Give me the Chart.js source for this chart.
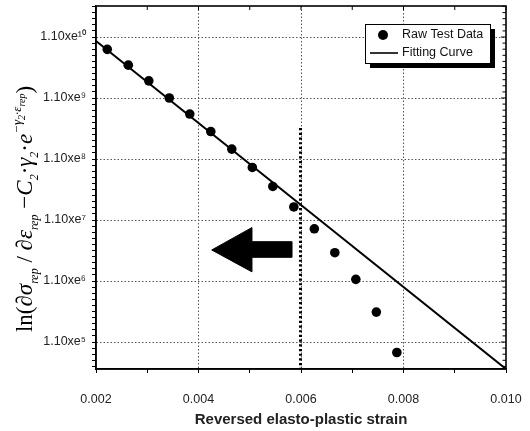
<!DOCTYPE html>
<html><head><meta charset="utf-8">
<script src="https://cdn.jsdelivr.net/npm/chart.js@4.4.0/dist/chart.umd.min.js"></script>
<style>html,body{margin:0;padding:0;background:#fff;}#wrap{width:530px;height:431px;position:relative;}</style>
</head><body><div id="wrap"><canvas id="c" width="530" height="431" style="width:530px;height:431px"></canvas></div>
<script>
// ---- data ----
const rawX = [0.00222,0.00263,0.00303,0.00343,0.00383,0.00424,0.00465,0.00505,0.00545,0.00586,0.00626,0.00666,0.00707,0.00747,0.00787];
const rawY = [6.9e9,3.8e9,2.1e9,1.1e9,6.0e8,3.1e8,1.6e8,8.0e7,3.9e7,1.8e7,7.9e6,3.2e6,1.17e6,3.4e5,7.4e4];
const fitX = [0.002, 0.010];
const fitY = [9.46e9, 3.97e4];
const limitX = [0.00599, 0.00599];
const limitY = [3.54e8, 3.97e4];
const arrowX = [0.004258,0.005038,0.005038,0.005819,0.005819,0.005038,0.005038,0.004258];
const arrowY = [3.55e6,8.23e6,4.85e6,4.85e6,2.69e6,2.69e6,1.56e6,3.55e6];
const xTickValues = [0.002,0.003,0.004,0.005,0.006,0.007,0.008,0.009,0.010];
const xTickLabels = ['0.002','','0.004','','0.006','','0.008','','0.010'];
const xGridValues = [0.004,0.006,0.008];
const yMajorValues = [1.1e5,1.1e6,1.1e7,1.1e8,1.1e9,1.1e10];
const yTickLabels = ['1.10xe\u2075','1.10xe\u2076','1.10xe\u2077','1.10xe\u2078','1.10xe\u2079','1.10xe\u00b9\u2070'];
const xRange = [0.002, 0.010];
const yRange = [3.97e4, 3.545e10];
const seriesNames = ['Raw Test Data','Fitting Curve'];
const xTitle = 'Reversed elasto-plastic strain';
const yTitleParts = [['ln(','n'],['\u2202\u03c3','i'],['rep','sub'],[' / ','n'],['\u2202\u03b5','i'],['rep','sub'],[' \u2212','n'],['C','i'],['2','sub'],['\u00b7','n'],['\u03b3','i'],['2','sub'],['\u00b7','n'],['e','i'],['\u2212\u03b3','sup'],['2','supsub'],['\u00b7\u03b5','sup'],['rep','supsub'],[')','n']];

// ---- font detection ----
const probe = document.createElement('canvas').getContext('2d');
probe.font = "15px 'Liberation Sans Narrow', monospace"; const wA = probe.measureText('0.002 Raw Test').width;
probe.font = "15px monospace"; const wB = probe.measureText('0.002 Raw Test').width;
const hasNarrow = Math.abs(wA - wB) > 0.5;
const SANS = hasNarrow ? "'Liberation Sans Narrow', 'Liberation Sans', Arial, sans-serif" : "'Liberation Sans', Arial, sans-serif";
const FS = hasNarrow ? 15 : 12.5;
const FT = hasNarrow ? 18 : 15;

function isMajorY(v){ return yMajorValues.some(m => Math.abs(Math.log10(v/m)) < 1e-6); }

const framePlugin = {
  id: 'frame',
  afterDatasetsDraw(chart) {
    const {ctx, chartArea: a, scales: {x, y}} = chart;
    ctx.save();
    ctx.strokeStyle = '#000'; ctx.lineWidth = 1;
    ctx.beginPath();
    x.ticks.forEach(t => { const px = x.getPixelForValue(t.value); ctx.moveTo(px, a.top); ctx.lineTo(px, a.top + 4); });
    y.ticks.forEach(t => { const py = y.getPixelForValue(t.value); ctx.moveTo(a.right, py); ctx.lineTo(a.right - (t.major ? 5 : 3.5), py); });
    ctx.stroke();
    ctx.lineWidth = 1.6;
    ctx.strokeRect(a.left, a.top, a.right - a.left, a.bottom - a.top);
    ctx.restore();
  },
  afterDraw(chart) {
    const {ctx, chartArea: a} = chart;
    const bx = a.right - 141, by = a.top + 18, bw = 125, bh = 39;
    ctx.save();
    ctx.fillStyle = '#000'; ctx.fillRect(bx + 5, by + 5, bw, bh);
    ctx.fillStyle = '#fff'; ctx.fillRect(bx, by, bw, bh);
    ctx.strokeStyle = '#000'; ctx.lineWidth = 1; ctx.strokeRect(bx + 0.5, by + 0.5, bw, bh);
    ctx.fillStyle = '#000';
    ctx.beginPath(); ctx.arc(bx + 18, by + 11, 5, 0, Math.PI * 2); ctx.fill();
    ctx.lineWidth = 1.6; ctx.beginPath(); ctx.moveTo(bx + 5, by + 29); ctx.lineTo(bx + 33, by + 29); ctx.stroke();
    ctx.font = FS + 'px ' + SANS; ctx.textBaseline = 'middle'; ctx.textAlign = 'left';
    ctx.fillStyle = '#111';
    ctx.fillText(chart.data.datasets[0].label, bx + 37, by + 11);
    ctx.fillText(chart.data.datasets[1].label, bx + 37, by + 29);
    ctx.restore();
    const S = 23;
    const fonts = {
      n: [S + "px 'Liberation Serif', serif", 0],
      i: ["italic " + S + "px 'Liberation Serif', serif", 0],
      sub: ["italic " + Math.round(S*0.5) + "px 'Liberation Serif', serif", S*0.28],
      sup: ["italic " + Math.round(S*0.58) + "px 'Liberation Serif', serif", -S*0.5],
      supsub: ["italic " + Math.round(S*0.42) + "px 'Liberation Serif', serif", -S*0.3]
    };
    ctx.save();
    ctx.fillStyle = '#000';
    ctx.textBaseline = 'alphabetic'; ctx.textAlign = 'left';
    let total = 0;
    yTitleParts.forEach(([t, k]) => { ctx.font = fonts[k][0]; total += ctx.measureText(t).width; });
    ctx.translate(32, a.top + 203);
    ctx.rotate(-Math.PI / 2);
    let cx = -total / 2;
    yTitleParts.forEach(([t, k]) => { ctx.font = fonts[k][0]; ctx.fillText(t, cx, fonts[k][1]); cx += ctx.measureText(t).width; });
    ctx.restore();
  }
};

new Chart(document.getElementById('c'), {
  type: 'scatter',
  data: {
    datasets: [
      { label: seriesNames[0], data: rawX.map((v, i) => ({x: v, y: rawY[i]})), pointRadius: 4.8, pointHoverRadius: 4.8,
        backgroundColor: '#000', borderColor: '#000', borderWidth: 0, showLine: false, order: 1 },
      { label: seriesNames[1], data: fitX.map((v, i) => ({x: v, y: fitY[i]})), showLine: true, pointRadius: 0,
        borderColor: '#000', borderWidth: 2, fill: false, order: 2 },
      { label: 'limit', data: limitX.map((v, i) => ({x: v, y: limitY[i]})), showLine: true, pointRadius: 0,
        borderColor: '#000', borderWidth: 3, borderDash: [2.2, 2.5], fill: false, order: 3 },
      { label: 'arrow', data: arrowX.map((v, i) => ({x: v, y: arrowY[i]})), showLine: true, pointRadius: 0,
        borderColor: '#000', backgroundColor: '#000', borderWidth: 1, fill: 'shape', tension: 0, order: 4 }
    ]
  },
  options: {
    responsive: false, animation: false, devicePixelRatio: 1,
    layout: { padding: { left: 0, right: 24, top: 6, bottom: 0 } },
    plugins: { legend: { display: false }, tooltip: { enabled: false } },
    scales: {
      x: {
        type: 'linear', position: 'bottom', min: xRange[0], max: xRange[1],
        afterBuildTicks: s => { s.ticks = xTickValues.map(v => ({value: v})); },
        afterFit: s => { s.height = 62; s.paddingLeft = 0; s.paddingRight = 0; },
        ticks: { autoSkip: false, maxRotation: 0, padding: 19, color: '#222', font: { family: SANS, size: FS },
          callback: (v) => { const i = xTickValues.findIndex(t => Math.abs(t - v) < 1e-9); return i >= 0 ? xTickLabels[i] : ''; } },
        grid: { drawOnChartArea: true, drawTicks: true, tickLength: 4, lineWidth: 1, tickColor: '#000', tickWidth: 1,
          color: ctx => (ctx.tick && xGridValues.some(g => Math.abs(g - ctx.tick.value) < 1e-9)) ? '#555' : 'rgba(0,0,0,0)' },
        border: { display: true, color: '#000', width: 1.5, dash: [1.5, 2] },
        title: { display: true, text: xTitle, color: '#222', font: { family: SANS, size: FT, weight: 'bold' }, padding: { top: 0, bottom: 2 } }
      },
      y: {
        type: 'logarithmic', position: 'left', min: yRange[0], max: yRange[1],
        afterBuildTicks: s => {
          const out = [];
          const base = yMajorValues[0];
          for (let n = -1; n <= yMajorValues.length; n++) {
            for (let k = 0; k < 10; k++) {
              const v = base * Math.pow(10, n + k / 10);
              if (v >= yRange[0] * 0.999 && v <= yRange[1] * 1.001) out.push({value: v, major: k === 0});
            }
          }
          s.ticks = out;
        },
        afterFit: s => { s.width = 96; s.paddingTop = 0; s.paddingBottom = 0; },
        ticks: { autoSkip: false, padding: 6, color: '#222', font: { family: SANS, size: FS },
          callback: (v) => { const i = yMajorValues.findIndex(m => Math.abs(Math.log10(v / m)) < 1e-6); return i >= 0 ? yTickLabels[i] : ''; } },
        grid: { drawOnChartArea: true, drawTicks: true, tickLength: 4, lineWidth: 1, tickColor: '#000', tickWidth: 1,
          color: ctx => (ctx.tick && isMajorY(ctx.tick.value)) ? '#555' : 'rgba(0,0,0,0)' },
        border: { display: true, color: '#000', width: 1.5, dash: [1.5, 2] },
        title: { display: false }
      }
    }
  },
  plugins: [framePlugin]
});
</script></body></html>
